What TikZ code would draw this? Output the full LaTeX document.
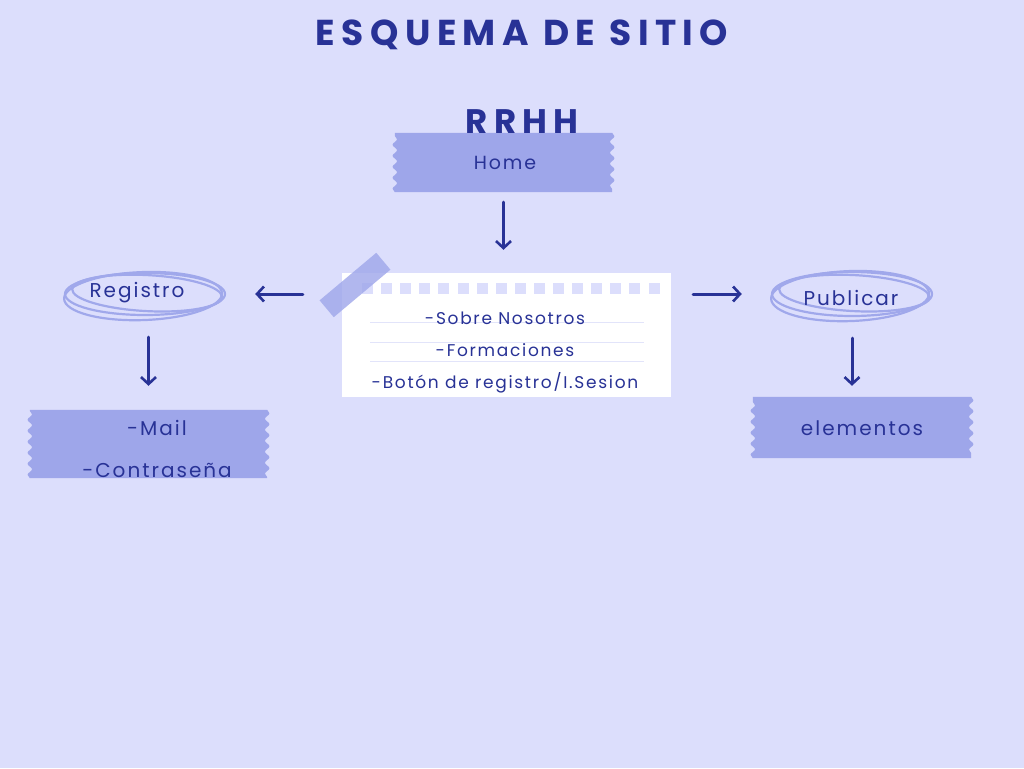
\documentclass[tikz,border=0pt]{standalone}
\usepackage{fontspec}
\setmainfont{Poppins}
\newfontfamily\hand[LetterSpace=10]{Poppins}
\newfontfamily\titlef[LetterSpace=18]{Poppins}
\usetikzlibrary{arrows.meta,decorations.pathmorphing}
\definecolor{bgc}{RGB}{220,222,252}
\definecolor{ink}{RGB}{40,50,150}
\definecolor{tapec}{RGB}{158,166,234}
\definecolor{ringc}{RGB}{160,168,235}
\definecolor{rulec}{RGB}{226,228,250}
\pgfdeclarelayer{bottom}
\pgfdeclarelayer{back}
\pgfsetlayers{bottom,back,main}
\tikzset{
  txt/.style={text=ink, inner sep=0pt},
  label20/.style={txt, font=\hand\fontsize{20}{22}\selectfont},
  label19/.style={txt, font=\hand\fontsize{19}{21}\selectfont},
  label17/.style={txt, font=\hand\fontsize{17}{19}\selectfont},
  boxn/.style={inner sep=0pt},
  ringn/.style={inner sep=0pt},
  arr/.style={draw=ink, line width=3pt, line cap=round, -{Straight Barb[length=7pt,width=15pt,line width=2.6pt]}},
  ringline/.style={draw=ringc, line width=2.2pt},
  wav/.style={decoration={snake,segment length=11pt,amplitude=2.2pt}}
}
\newcommand\wavyfill[1]{%
  \fill[tapec] (#1.north west) -- (#1.north east)
    decorate[wav]{-- (#1.south east)} -- (#1.south west)
    decorate[wav]{-- (#1.north west)} -- cycle;}
\begin{document}
\begin{tikzpicture}[x=1pt,y=-1pt]
\begin{pgfonlayer}{bottom}
\fill[bgc] (0,0) rectangle (1024,768);
\end{pgfonlayer}
\useasboundingbox (0,0) rectangle (1024,768);

% title
\node[txt, font=\titlef\bfseries\fontsize{36}{40}\selectfont] (title) at (522,35) {ESQUEMA DE SITIO};

% home
\node[boxn, minimum width=217pt, minimum height=59pt] (home) at (503.5,162.5) {};
\node[label19] (hometxt) at (505,163) {Home};
\node[txt, font=\titlef\bfseries\fontsize{34}{38}\selectfont] (rrhh) at (522,122) {RRHH};

% note paper
\node[minimum width=329pt, minimum height=124pt, inner sep=0pt] (note) at (506.5,335) {};
\node[label17] (s1) at (505,318) {-Sobre Nosotros};
\node[label17] (s2) at (505,350) {-Formaciones};
\node[label17] (s3) at (505,383) {-Botón de registro/I.Sesion};

% registro / publicar
\node[ringn, minimum width=164pt, minimum height=46pt] (reg) at (145,294) {};
\node[label20] (regtxt) at (137,293) {Registro};
\node[ringn, minimum width=164pt, minimum height=46pt] (pub) at (852,294) {};
\node[label20] (pubtxt) at (851,298) {Publicar};

% lower boxes
\node[boxn, minimum width=237pt, minimum height=68pt] (mail) at (148.5,444) {};
\node[label20] (m1) at (157,428) {-Mail};
\node[label20] (m2) at (157,470) {-Contraseña};
\node[boxn, minimum width=218pt, minimum height=61pt] (elem) at (862,427.5) {};
\node[label20] (eltxt) at (862,428) {elementos};

\begin{pgfonlayer}{back}
  \wavyfill{home}
  \wavyfill{mail}
  \wavyfill{elem}
  \fill[white] (note.north west) rectangle (note.south east);
  \foreach \i in {0,...,15}
    \fill[bgc] (362+19.1*\i,283) rectangle ++(11,11);
  \foreach \yy in {322,342,361}
    \draw[rulec, line width=0.8pt] (370,\yy) -- (644,\yy);
  % rings
  \draw[ringline] (reg.center) ellipse [x radius=80pt, y radius=21pt];
  \draw[ringline, rotate around={-3:(reg.center)}] ([xshift=2pt,yshift=1pt]reg.center) ellipse [x radius=75pt, y radius=18pt];
  \draw[ringline, rotate around={2:(reg.center)}] ([xshift=-2pt,yshift=-2pt]reg.center) ellipse [x radius=79pt, y radius=24pt];
  \draw[ringline] (pub.center) ellipse [x radius=80pt, y radius=22pt];
  \draw[ringline, rotate around={-3:(pub.center)}] ([xshift=2pt,yshift=1pt]pub.center) ellipse [x radius=75pt, y radius=18pt];
  \draw[ringline, rotate around={2:(pub.center)}] ([xshift=-2pt,yshift=-2pt]pub.center) ellipse [x radius=79pt, y radius=25pt];
\end{pgfonlayer}

% tape
\fill[tapec, fill opacity=0.8, rotate around={40:(355,285)}] (318,274) rectangle (392,296);

% arrows
\draw[arr, shorten <=10pt, shorten >=23pt] (home.south) -- (home.south |- note.north);
\draw[arr, shorten <=39pt, shorten >=28pt] (note.west |- reg.center) -- (reg.east);
\draw[arr, shorten <=22pt, shorten >=28pt] (note.east |- pub.center) -- (pub.west);
\draw[arr, shorten <=20pt, shorten >=24pt] (reg.south -| mail.north) -- (mail.north);
\draw[arr, shorten <=21pt, shorten >=11pt] (pub.south) -- (pub.south |- elem.north);
\end{tikzpicture}
\end{document}
